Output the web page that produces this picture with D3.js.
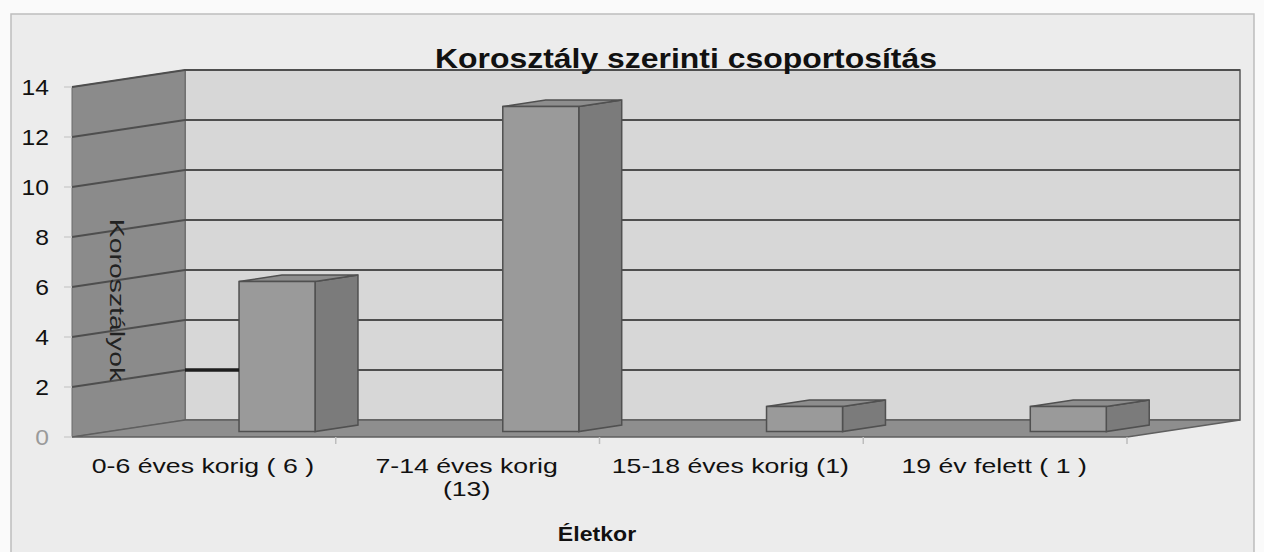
<!DOCTYPE html>
<html><head><meta charset="utf-8">
<script src="https://cdn.jsdelivr.net/npm/d3@7"></script>
<style>html,body{margin:0;padding:0;background:#fafafa;}svg{display:block;}</style>
</head><body>
<svg id="c" width="1264" height="552"></svg>
<script>
const categories = ["0-6 éves korig ( 6 )", "7-14 éves korig\n(13)", "15-18 éves korig (1)", "19 év felett ( 1 )"];
const values = [6, 13, 1, 1];
const yTicks = [0, 2, 4, 6, 8, 10, 12, 14];
const title = "Korosztály szerinti csoportosítás";
const yTitle = "Korosztályok";
const xTitle = "Életkor";

const svg = d3.select("#c");
const font = "Liberation Sans, Arial, sans-serif";

// stretch text horizontally (reference glyphs are wide)
function stretch(sel, f) {
  sel.each(function () {
    const n = this;
    const w = n.getComputedTextLength();
    d3.select(n).attr("textLength", w * f).attr("lengthAdjust", "spacingAndGlyphs");
  });
}

// 3D geometry
const depthDX = 113, depthDY = -17;
const x = d3.scaleBand().domain(categories).range([72, 1127]);
const y = d3.scaleLinear().domain([0, 14]).range([437, 87]);
const P = (fx, v, d) => [fx + depthDX * d, y(v) + depthDY * d];
const poly = pts => "M" + pts.map(p => p.join(",")).join("L") + "Z";

// chart area
svg.append("rect").attr("x", 11).attr("y", 14).attr("width", 1243).attr("height", 545)
  .attr("fill", "#ececec").attr("stroke", "#bdbdbd").attr("stroke-width", 1.5);

const x0 = x.range()[0], x1 = x.range()[1];
const vmax = y.domain()[1];
// back wall
svg.append("path").attr("d", poly([P(x0,0,1), P(x0,vmax,1), P(x1,vmax,1), P(x1,0,1)]))
  .attr("fill", "#d7d7d7").attr("stroke", "#5a5a5a").attr("stroke-width", 1.5);
// side wall
svg.append("path").attr("d", poly([P(x0,0,0), P(x0,vmax,0), P(x0,vmax,1), P(x0,0,1)]))
  .attr("fill", "#8b8b8b").attr("stroke", "#6a6a6a").attr("stroke-width", 1);
// floor
svg.append("path").attr("d", poly([P(x0,0,0), P(x0,0,1), P(x1,0,1), P(x1,0,0)]))
  .attr("fill", "#8e8e8e").attr("stroke", "#5f5f5f").attr("stroke-width", 1.5);

// gridlines
yTicks.filter(v => v > 0).forEach(v => {
  svg.append("polyline").attr("points", [P(x0,v,0), P(x0,v,1), P(x1,v,1)].map(p=>p.join(",")).join(" "))
    .attr("fill", "none").attr("stroke", "#4e4e4e").attr("stroke-width", 2);
});

// bars
const bw = x.bandwidth();
const barW = 76, dFront = 0.32, dBack = 0.7;
const g = svg.append("g");
categories.forEach((c, i) => {
  const v = values[i];
  const fl = x(c) + bw / 2 - 1;
  const fr = fl + barW;
  const front = [P(fl,0,dFront), P(fl,v,dFront), P(fr,v,dFront), P(fr,0,dFront)];
  const side = [P(fr,0,dFront), P(fr,v,dFront), P(fr,v,dBack), P(fr,0,dBack)];
  const top = [P(fl,v,dFront), P(fl,v,dBack), P(fr,v,dBack), P(fr,v,dFront)];
  g.append("path").attr("d", poly(side)).attr("fill", "#7b7b7b").attr("stroke", "#505050").attr("stroke-width", 1.5);
  g.append("path").attr("d", poly(top)).attr("fill", "#8d8d8d").attr("stroke", "#505050").attr("stroke-width", 1.5);
  g.append("path").attr("d", poly(front)).attr("fill", "#9a9a9a").attr("stroke", "#505050").attr("stroke-width", 1.5);
  if (i === 0) {
    const a = P(x0, 2, 1), b = P(fl, 2, dFront);
    svg.append("line").attr("x1", a[0]).attr("x2", b[0]).attr("y1", a[1]).attr("y2", a[1])
      .attr("stroke", "#1e1e1e").attr("stroke-width", 3.5);
  }
});

// y axis ticks and labels
yTicks.forEach(v => {
  const p = P(x0, v, 0);
  svg.append("line").attr("x1", p[0]-8).attr("x2", p[0]).attr("y1", p[1]).attr("y2", p[1])
    .attr("stroke", "#cfcfcf").attr("stroke-width", 1.5);
  svg.append("text").attr("x", 49).attr("y", p[1]).attr("dy", "0.36em")
    .attr("text-anchor", "end").attr("font-family", font).attr("font-size", 22)
    .attr("fill", v === 0 ? "#9a9a9a" : "#111").text(v).call(stretch, 1.12);
});

// x axis ticks
categories.forEach(c => {
  const xr = x(c) + bw;
  svg.append("line").attr("x1", xr).attr("x2", xr).attr("y1", y(0)).attr("y2", y(0)+7)
    .attr("stroke", "#bdbdbd").attr("stroke-width", 1.5);
});

// category labels
categories.forEach(c => {
  const lines = c.split("\n");
  const cx = x(c) + bw / 2 - 1;
  lines.forEach((l, k) => {
    svg.append("text").attr("x", cx).attr("y", 473 + k * 23)
      .attr("text-anchor", "middle").attr("font-family", font).attr("font-size", 21).attr("fill", "#111")
      .text(l).call(stretch, 1.27);
  });
});

// titles
svg.append("text").attr("x", 686).attr("y", 68).attr("text-anchor", "middle")
  .attr("font-family", font).attr("font-size", 28).attr("font-weight", "bold").attr("fill", "#111")
  .text(title).call(stretch, 1.14);
svg.append("text").attr("x", 597).attr("y", 541).attr("text-anchor", "middle")
  .attr("font-family", font).attr("font-size", 21).attr("font-weight", "bold").attr("fill", "#111")
  .text(xTitle).call(stretch, 1.1);
svg.append("text").attr("transform", "translate(110,300) rotate(90)").attr("text-anchor", "middle")
  .attr("font-family", font).attr("font-size", 21).attr("fill", "#222")
  .text(yTitle).call(stretch, 1.35);
</script>
</body></html>
